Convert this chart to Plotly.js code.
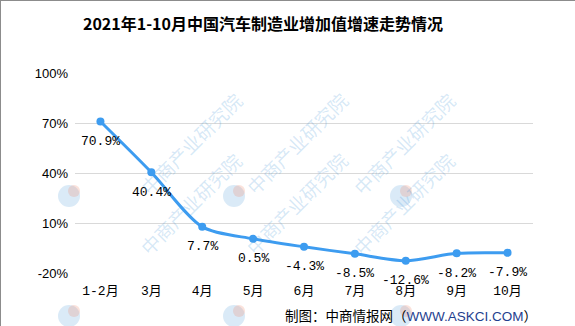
<!DOCTYPE html>
<html><head><meta charset="utf-8">
<script src="https://cdn.plot.ly/plotly-3.0.1.min.js"></script>
<style>body{margin:0;background:#fff}#c{width:573px;height:324px;border:1px solid #8c8c8c}</style>
</head><body><div id="c"></div>
<script>
const months = ['1-2月','3月','4月','5月','6月','7月','8月','9月','10月'];
const growth = [70.9, 40.4, 7.7, 0.5, -4.3, -8.5, -12.6, -8.2, -7.9];
const yTicks = [-20, 10, 40, 70, 100];

const W = 575, H = 326, L = 74, R = 43, T = 72, B = 54;
const pw = W - L - R, ph = H - T - B;
const px = x => (x - L) / pw, py = y => (H - B - y) / ph;

const labelFont = {family: 'Liberation Mono, Noto Sans CJK SC', size: 13, color: '#000'};
const annotations = months.map((m, i) => ({
  x: m, y: growth[i], xref: 'x', yref: 'y', text: growth[i].toFixed(1) + '%',
  showarrow: false, yshift: -20, font: labelFont
}));

const shapes = [];
const wmX = [68, 233, 400], wmY = [195, 315];
wmX.forEach(lx => wmY.forEach(ly => {
  annotations.push({xref: 'paper', yref: 'paper', x: px(lx + 62), y: py(ly - 53),
    text: '中商产业研究院', textangle: -45, showarrow: false,
    font: {family: 'Noto Sans CJK SC', size: 19, color: 'rgba(70,150,215,0.22)'}});
  shapes.push({type: 'circle', xref: 'paper', yref: 'paper', layer: 'above',
    x0: px(lx - 11), x1: px(lx + 11), y0: py(ly + 11), y1: py(ly - 11),
    line: {width: 0}, fillcolor: 'rgba(70,150,215,0.2)'});
  shapes.push({type: 'circle', xref: 'paper', yref: 'paper', layer: 'above',
    x0: px(lx - 1), x1: px(lx + 11), y0: py(ly + 1), y1: py(ly - 11),
    line: {width: 0}, fillcolor: 'rgba(240,140,110,0.25)'});
}));

annotations.push({xref: 'paper', yref: 'paper', x: px(538), y: py(314), xanchor: 'right', yanchor: 'middle',
  showarrow: false, font: {family: 'Noto Sans CJK SC', size: 13.5, color: '#000'},
  text: '制图：中商情报网（<span style="color:#1f3f8f;font-family:Liberation Sans">WWW.ASKCI.COM</span>）'});

Plotly.newPlot('c', [{
  x: months, y: growth, type: 'scatter', mode: 'lines+markers',
  line: {color: '#3d9cf0', width: 3, shape: 'spline', smoothing: 0.8},
  marker: {color: '#3d9cf0', size: 8}, cliponaxis: false, hoverinfo: 'skip'
}], {
  width: W, height: H, margin: {l: L, r: R, t: T, b: B}, showlegend: false,
  paper_bgcolor: '#fff', plot_bgcolor: '#fff',
  title: {text: '2021年1-10月中国汽车制造业增加值增速走势情况', x: 262 / W, xanchor: 'center',
    y: 1 - 23 / H, yanchor: 'middle',
    font: {family: 'Noto Sans CJK SC', size: 16, color: '#000', weight: 'bold'}},
  xaxis: {type: 'category', range: [-0.5, 8.5], showgrid: false, zeroline: false, showline: false,
    ticks: '', ticklabelstandoff: 8, tickfont: {family: 'Liberation Mono, Noto Sans CJK SC', size: 13, color: '#000'}},
  yaxis: {range: [-20, 100], tickvals: yTicks, ticktext: yTicks.map(v => v + '%'),
    showgrid: true, gridcolor: '#d9d9d9', gridwidth: 1, zeroline: false, showline: false, ticks: '',
    ticklabelstandoff: 6, tickfont: {family: 'Liberation Sans, Noto Sans CJK SC', size: 13, color: '#000'}},
  annotations: annotations, shapes: shapes
}, {staticPlot: true});
</script></body></html>
